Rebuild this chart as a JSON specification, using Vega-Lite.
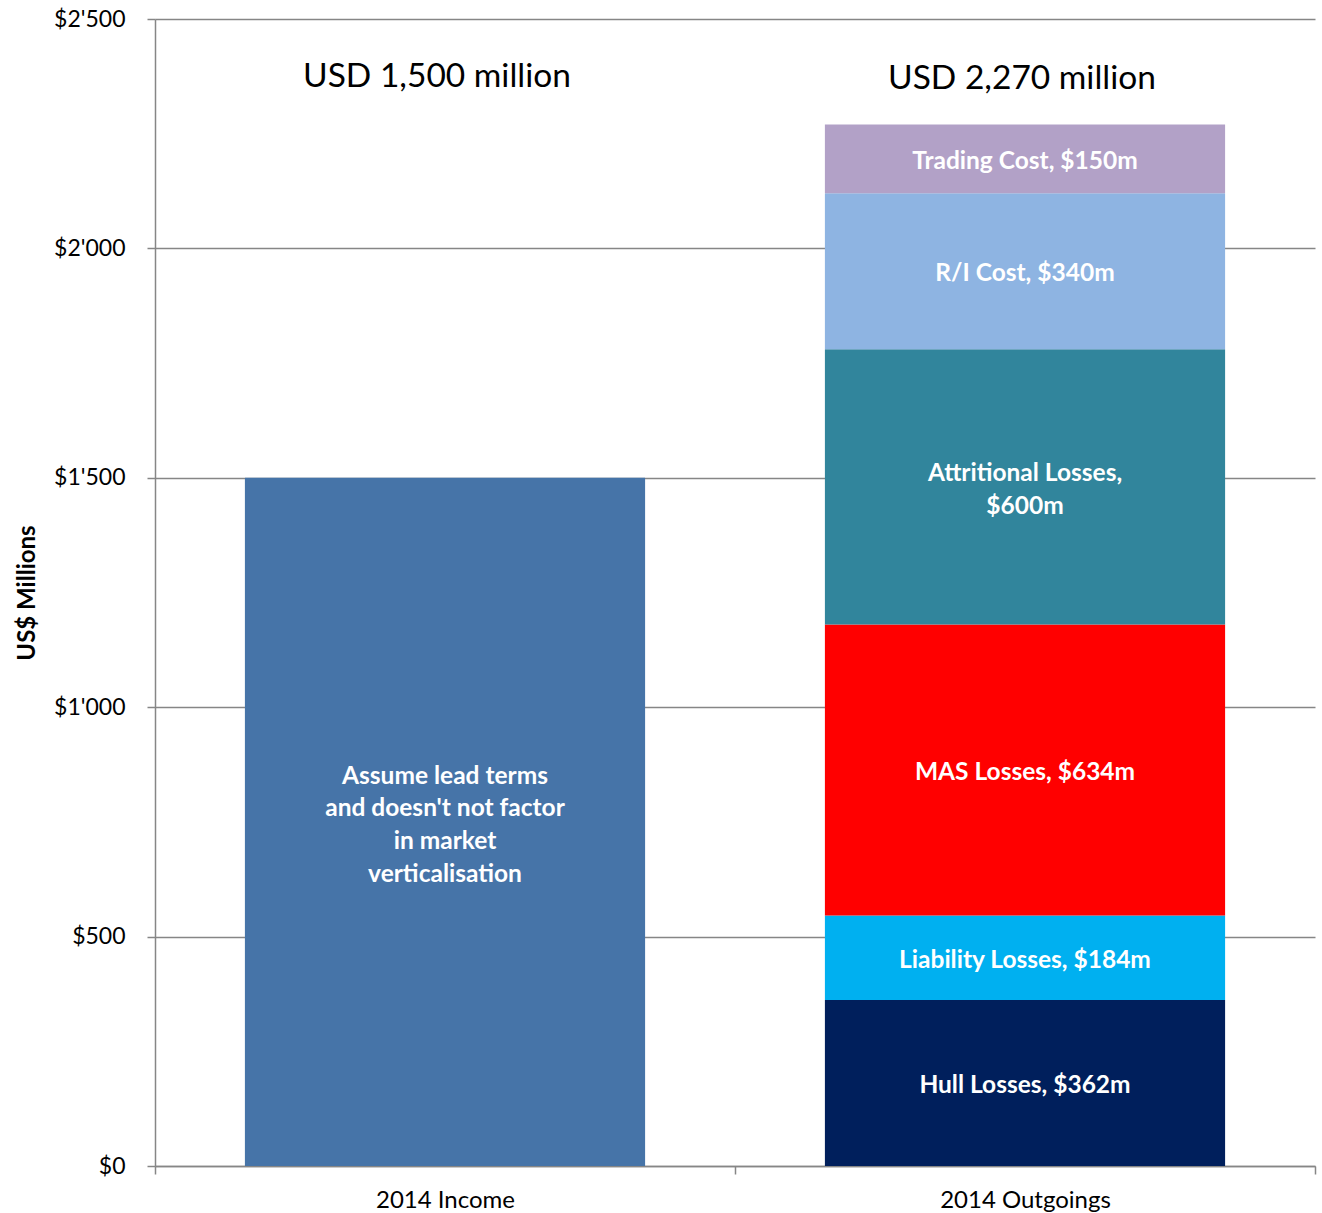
{
  "$schema": "https://vega.github.io/schema/vega-lite/v6.json",
  "width": 1160,
  "height": 1147,
  "autosize": "none",
  "padding": {"left": 155, "top": 19, "right": 7, "bottom": 47},
  "config": {
    "font": "Lato",
    "view": {"stroke": null},
    "axis": {"labelFont": "Lato", "titleFont": "Lato"}
  },
  "datasets": {
    "segments": [
      {"cat": "2014 Income", "segment": "Income", "order": 1, "value": 1500, "label": ["Assume lead terms", "and doesn't not factor", "in market", "verticalisation"]},
      {"cat": "2014 Outgoings", "segment": "Hull Losses", "order": 1, "value": 362, "label": ["Hull Losses, $362m"]},
      {"cat": "2014 Outgoings", "segment": "Liability Losses", "order": 2, "value": 184, "label": ["Liability Losses, $184m"]},
      {"cat": "2014 Outgoings", "segment": "MAS Losses", "order": 3, "value": 634, "label": ["MAS Losses, $634m"]},
      {"cat": "2014 Outgoings", "segment": "Attritional Losses", "order": 4, "value": 600, "label": ["Attritional Losses,", "$600m"]},
      {"cat": "2014 Outgoings", "segment": "R/I Cost", "order": 5, "value": 340, "label": ["R/I Cost, $340m"]},
      {"cat": "2014 Outgoings", "segment": "Trading Cost", "order": 6, "value": 150, "label": ["Trading Cost, $150m"]}
    ],
    "totals": [
      {"cat": "2014 Income", "value": 2373, "label": "USD 1,500 million"},
      {"cat": "2014 Outgoings", "value": 2369, "label": "USD 2,270 million"}
    ]
  },
  "layer": [
    {
      "data": {"name": "segments"},
      "transform": [
        {"stack": "value", "groupby": ["cat"], "sort": [{"field": "order"}], "as": ["y0", "y1"]}
      ],
      "mark": {"type": "bar", "width": {"band": 0.69}},
      "encoding": {
        "x": {
          "field": "cat", "type": "nominal", "sort": null,
          "scale": {"paddingInner": 0, "paddingOuter": 0},
          "axis": {
            "title": null, "labelAngle": 0, "labelFontSize": 24, "labelColor": "#000000",
            "labelPadding": 14, "tickBand": "extent", "tickSize": 8, "tickColor": "#868686",
            "tickWidth": 1.5, "domainColor": "#868686", "domainWidth": 1.5, "grid": false
          }
        },
        "y": {
          "field": "y0", "type": "quantitative",
          "scale": {"domain": [0, 2500], "nice": false},
          "axis": {
            "title": "US$ Millions", "titleFontSize": 24, "titleFontWeight": "bold", "titleColor": "#000000",
            "titlePadding": 14,
            "values": [0, 500, 1000, 1500, 2000, 2500],
            "labelExpr": "'$' + replace(format(datum.value, ','), ',', \"'\")",
            "labelFontSize": 23, "labelColor": "#000000", "labelPadding": 22,
            "tickSize": 8, "tickColor": "#868686", "tickWidth": 1.5,
            "domainColor": "#868686", "domainWidth": 1.5,
            "grid": true, "gridColor": "#868686", "gridWidth": 1.5
          }
        },
        "y2": {"field": "y1"},
        "color": {
          "field": "segment", "type": "nominal", "legend": null,
          "scale": {
            "domain": ["Income", "Hull Losses", "Liability Losses", "MAS Losses", "Attritional Losses", "R/I Cost", "Trading Cost"],
            "range": ["#4674A8", "#001F5C", "#00B0F0", "#FF0000", "#31859C", "#8EB4E2", "#B2A1C7"]
          }
        }
      }
    },
    {
      "data": {"name": "segments"},
      "transform": [
        {"stack": "value", "groupby": ["cat"], "sort": [{"field": "order"}], "as": ["y0", "y1"]},
        {"calculate": "(datum.y0 + datum.y1) / 2", "as": "mid"},
        {"filter": "datum.segment !== 'Income' && datum.segment !== 'Attritional Losses'"}
      ],
      "mark": {"type": "text", "color": "#FFFFFF", "fontSize": 24.5, "fontWeight": "bold", "baseline": "middle", "align": "center", "lineHeight": 32.6, "dy": 3},
      "encoding": {
        "x": {"field": "cat", "type": "nominal", "sort": null},
        "y": {"field": "mid", "type": "quantitative"},
        "text": {"field": "label"}
      }
    },
    {
      "data": {"name": "segments"},
      "transform": [
        {"stack": "value", "groupby": ["cat"], "sort": [{"field": "order"}], "as": ["y0", "y1"]},
        {"calculate": "(datum.y0 + datum.y1) / 2", "as": "mid"},
        {"filter": "datum.segment === 'Attritional Losses'"}
      ],
      "mark": {"type": "text", "color": "#FFFFFF", "fontSize": 24.5, "fontWeight": "bold", "baseline": "middle", "align": "center", "lineHeight": 32.6, "dy": -13},
      "encoding": {
        "x": {"field": "cat", "type": "nominal", "sort": null},
        "y": {"field": "mid", "type": "quantitative"},
        "text": {"field": "label"}
      }
    },
    {
      "data": {"name": "segments"},
      "transform": [
        {"stack": "value", "groupby": ["cat"], "sort": [{"field": "order"}], "as": ["y0", "y1"]},
        {"calculate": "(datum.y0 + datum.y1) / 2", "as": "mid"},
        {"filter": "datum.segment === 'Income'"}
      ],
      "mark": {"type": "text", "color": "#FFFFFF", "fontSize": 24.5, "fontWeight": "bold", "baseline": "middle", "align": "center", "lineHeight": 32.6, "dy": -45},
      "encoding": {
        "x": {"field": "cat", "type": "nominal", "sort": null},
        "y": {"field": "mid", "type": "quantitative"},
        "text": {"field": "label"}
      }
    },
    {
      "data": {"name": "totals"},
      "transform": [{"filter": "datum.cat === '2014 Income'"}],
      "mark": {"type": "text", "color": "#000000", "fontSize": 33.5, "baseline": "middle", "align": "center", "dx": -8},
      "encoding": {
        "x": {"field": "cat", "type": "nominal", "sort": null},
        "y": {"field": "value", "type": "quantitative"},
        "text": {"field": "label"}
      }
    },
    {
      "data": {"name": "totals"},
      "transform": [{"filter": "datum.cat === '2014 Outgoings'"}],
      "mark": {"type": "text", "color": "#000000", "fontSize": 33.5, "baseline": "middle", "align": "center", "dx": -3},
      "encoding": {
        "x": {"field": "cat", "type": "nominal", "sort": null},
        "y": {"field": "value", "type": "quantitative"},
        "text": {"field": "label"}
      }
    }
  ]
}
